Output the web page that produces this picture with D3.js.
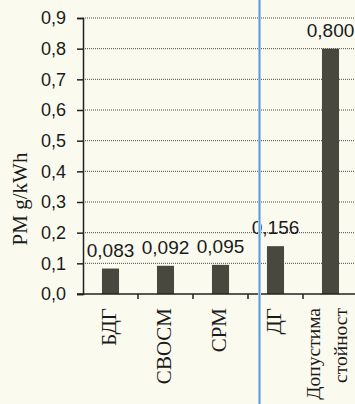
<!DOCTYPE html>
<html>
<head>
<meta charset="utf-8">
<script src="https://cdn.jsdelivr.net/npm/d3@7"></script>
<style>
  html, body { margin: 0; padding: 0; background: #fbfaef; }
  svg { display: block; }
</style>
</head>
<body>
<svg id="chart" width="355" height="404"></svg>
<script>
// PM emissions per fuel type, g/kWh
const categories = ["БДГ", "СВОСМ", "СРМ", "ДГ", "Допустима стойност"];
const categoryLines = [["БДГ"], ["СВОСМ"], ["СРМ"], ["ДГ"], ["Допустима", "стойност"]];
const pmValues = [0.083, 0.092, 0.095, 0.156, 0.800];
const valueLabels = ["0,083", "0,092", "0,095", "0,156", "0,800"];
const yTickValues = [0, 0.1, 0.2, 0.3, 0.4, 0.5, 0.6, 0.7, 0.8, 0.9];
const yTickLabels = ["0,0", "0,1", "0,2", "0,3", "0,4", "0,5", "0,6", "0,7", "0,8", "0,9"];
const yTitle = "PM g/kWh";

const svg = d3.select("#chart");
const W = 355, H = 404;
const plotLeft = 83, plotRight = 358, plotTop = 18, plotBottom = 294;

svg.append("rect").attr("width", W).attr("height", H).attr("fill", "#fbfaef");

const x = d3.scaleBand().domain(categories).range([plotLeft, plotRight])
  .paddingInner(0.69).paddingOuter(0.345);
const y = d3.scaleLinear().domain([0, 0.9]).range([plotBottom, plotTop]);

// dotted horizontal gridlines
svg.append("g").selectAll("line").data(yTickValues.slice(1)).join("line")
  .attr("x1", plotLeft).attr("x2", W)
  .attr("y1", d => y(d)).attr("y2", d => y(d))
  .attr("stroke", "#4a4a44").attr("stroke-width", 1)
  .attr("stroke-dasharray", "1,1");

// bars
svg.append("g").selectAll("rect").data(pmValues).join("rect")
  .attr("x", (d, i) => x(categories[i]))
  .attr("width", x.bandwidth())
  .attr("y", d => y(d))
  .attr("height", d => y(0) - y(d))
  .attr("fill", "#48483f");

// value labels
svg.append("g").selectAll("text").data(pmValues).join("text")
  .attr("x", (d, i) => x(categories[i]) + x.bandwidth() / 2)
  .attr("y", d => y(d) - 12)
  .attr("text-anchor", "middle")
  .attr("font-family", "Liberation Sans, Arial, sans-serif")
  .attr("font-size", 19)
  .attr("fill", "#1a1a1a")
  .text((d, i) => valueLabels[i]);

// y axis
const yAxis = d3.axisLeft(y).tickValues(yTickValues)
  .tickFormat((d, i) => yTickLabels[i]).tickSize(6).tickPadding(11);
const gy = svg.append("g").attr("transform", `translate(${plotLeft},0)`).call(yAxis);
gy.select(".domain").attr("stroke", "#222").attr("stroke-width", 1.5);
gy.selectAll(".tick line").attr("stroke", "#222").attr("stroke-width", 1.5);
gy.selectAll(".tick text")
  .attr("font-family", "Liberation Sans, Arial, sans-serif")
  .attr("font-size", 18).attr("fill", "#1a1a1a");

// x axis line and ticks at band boundaries
svg.append("line").attr("x1", plotLeft - 6).attr("x2", W)
  .attr("y1", plotBottom).attr("y2", plotBottom)
  .attr("stroke", "#222").attr("stroke-width", 1.5);
const step = x.step();
svg.append("g").selectAll("line").data(categories).join("line")
  .attr("x1", d => x(d) + x.bandwidth() / 2 + step / 2)
  .attr("x2", d => x(d) + x.bandwidth() / 2 + step / 2)
  .attr("y1", plotBottom).attr("y2", plotBottom + 5)
  .attr("stroke", "#222").attr("stroke-width", 1.5);

// rotated category labels
const catG = svg.append("g").selectAll("text").data(categories).join("text")
  .attr("transform", d => `translate(${x(d) + x.bandwidth() / 2},${plotBottom + 14}) rotate(-90)`)
  .attr("text-anchor", "end")
  .attr("font-family", "Liberation Serif, Times New Roman, serif")
  .attr("font-size", (d, i) => categoryLines[i].length > 1 ? 19.5 : 21)
  .attr("fill", "#1a1a1a");
catG.each(function (d, i) {
  const lines = categoryLines[i];
  const t = d3.select(this);
  if (lines.length === 1) {
    t.append("tspan").attr("x", 0).attr("dy", 5).text(lines[0]);
  } else {
    t.append("tspan").attr("x", 0).attr("dy", -11).text(lines[0]);
    t.append("tspan").attr("x", 0).attr("dy", 27).text(lines[1]);
  }
});

// y axis title
svg.append("text")
  .attr("transform", `translate(27,${(plotTop + plotBottom) / 2 + 43}) rotate(-90)`)
  .attr("text-anchor", "middle")
  .attr("font-family", "Liberation Serif, Times New Roman, serif")
  .attr("font-size", 21)
  .attr("fill", "#1a1a1a")
  .text(yTitle);

// blue margin rule on the page
svg.append("line").attr("x1", 259.5).attr("x2", 259.5).attr("y1", 0).attr("y2", H)
  .attr("stroke", "#9cc6ee").attr("stroke-width", 3);
svg.append("line").attr("x1", 259.5).attr("x2", 259.5).attr("y1", 0).attr("y2", H)
  .attr("stroke", "#5f9ede").attr("stroke-width", 1);
</script>
</body>
</html>
